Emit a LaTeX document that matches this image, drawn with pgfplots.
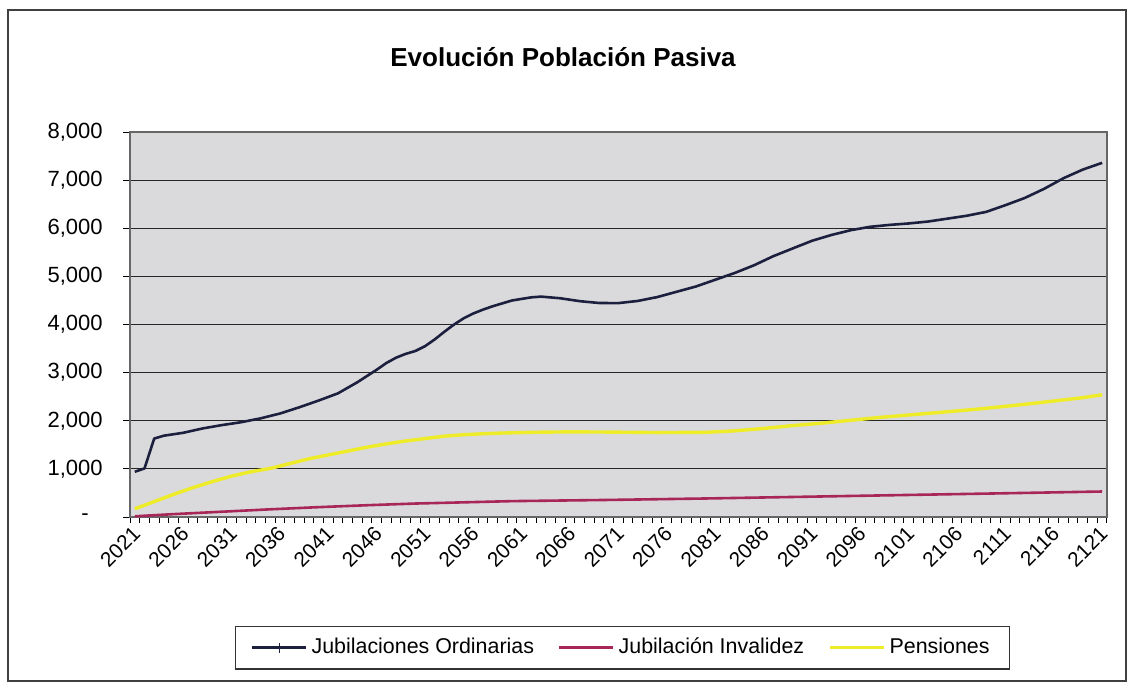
\documentclass[border=0pt]{standalone}
\usepackage{pgfplots}
\pgfplotsset{compat=1.18}
\usepackage{fontspec}
\setmainfont{Liberation Sans}
\definecolor{jubord}{RGB}{28,32,62}
\definecolor{jubinv}{RGB}{168,38,88}
\definecolor{pens}{RGB}{238,236,40}
\definecolor{plotbg}{RGB}{218,218,220}

\pgfplotstableread{
year value
2021 940
2022 1010
2023 1630
2024 1690
2026 1750
2028 1840
2030 1910
2032 1970
2034 2050
2036 2150
2038 2280
2040 2420
2042 2570
2044 2800
2046 3060
2047 3200
2048 3310
2049 3390
2050 3450
2051 3550
2052 3690
2053 3850
2054 4000
2055 4130
2056 4230
2057 4310
2058 4380
2060 4500
2062 4565
2063 4580
2065 4545
2067 4485
2069 4447
2071 4445
2073 4490
2075 4570
2077 4680
2079 4790
2081 4930
2083 5070
2085 5230
2087 5420
2089 5580
2091 5740
2093 5860
2095 5960
2097 6030
2099 6070
2101 6100
2103 6140
2105 6200
2107 6260
2109 6340
2111 6480
2113 6630
2115 6820
2117 7040
2119 7220
2121 7360
}\ordinarias

\pgfplotstableread{
year value
2021 15
2025 60
2030 110
2035 160
2040 205
2045 245
2050 280
2055 305
2060 330
2070 355
2080 385
2090 420
2100 455
2110 490
2121 530
}\invalidez

\pgfplotstableread{
year value
2021 170
2023 320
2025 470
2027 610
2029 735
2031 850
2033 940
2035 1010
2037 1110
2039 1210
2041 1290
2043 1370
2045 1450
2047 1520
2049 1580
2051 1630
2053 1680
2055 1710
2057 1730
2059 1745
2062 1760
2066 1770
2070 1765
2075 1755
2080 1760
2083 1790
2086 1840
2089 1900
2092 1950
2095 2010
2098 2070
2101 2120
2104 2170
2108 2240
2112 2320
2116 2410
2119 2480
2121 2540
}\pensiones

\begin{document}
\begin{tikzpicture}[x=1pt,y=1pt]
\useasboundingbox (0,0) rectangle (563.5,341);
\draw[black!75, line width=0.8pt] (4,0.6) rectangle (562.9,336);
\node[font=\fontsize{13}{15}\selectfont\bfseries] at (281.5,312.5) {Evolución Población Pasiva};
\begin{axis}[
  at={(65pt,82.5pt)}, anchor=south west,
  scale only axis, width=488.5pt, height=192.5pt,
  xmin=2020.5, xmax=2121.5, ymin=0, ymax=8000,
  axis background/.style={fill=plotbg},
  axis line style={black!60, line width=0.6pt},
  tick align=outside,
  xtick pos=lower, ytick pos=left,
  xtick={2021,2026,...,2121},
  xticklabels={2021,2026,2031,2036,2041,2046,2051,2056,2061,2066,2071,2076,2081,2086,2091,2096,2101,2106,2111,2116,2121},
  minor xtick={2020.5,2021.5,...,2121.5},
  major x tick style={draw=none},
  minor x tick style={black, line width=0.5pt},
  minor tick length=3pt,
  major tick length=3.5pt,
  ytick={0,1000,...,8000},
  yticklabels={{-\hspace*{7pt}},{1,000},{2,000},{3,000},{4,000},{5,000},{6,000},{7,000},{8,000}},
  y tick style={black, line width=0.5pt},
  ymajorgrids,
  major grid style={black!85, line width=0.6pt},
  xticklabel style={font=\fontsize{10.4}{11}\selectfont, rotate=45, anchor=north east, inner sep=1pt, yshift=2pt, xshift=-0.5pt},
  yticklabel style={font=\fontsize{11}{12}\selectfont, inner sep=1pt, xshift=-9pt},
  legend columns=3,
  legend style={at={(0.504,-0.339)}, anchor=center, draw=black!80, line width=0.6pt, fill=white,
    font=\fontsize{10.7}{12}\selectfont, inner xsep=8pt, inner ysep=4pt,
    /tikz/every even column/.append style={column sep=10pt}},
  legend cell align=left,
  legend image code/.code={\draw[#1] (0pt,0pt) -- (27pt,0pt);},
]
\addplot[jubord, line width=1.3pt, line join=round,
  legend image code/.code={\draw[jubord,line width=1.2pt] (0pt,0pt) -- (27pt,0pt); \draw[jubord,line width=0.6pt] (13.5pt,-2.5pt) -- (13.5pt,2.5pt);}]
  table[x=year,y=value] {\ordinarias};
\addlegendentry{Jubilaciones Ordinarias}
\addplot[jubinv, line width=1.3pt, line join=round] table[x=year,y=value] {\invalidez};
\addlegendentry{Jubilación Invalidez}
\addplot[pens, line width=1.7pt, line join=round] table[x=year,y=value] {\pensiones};
\addlegendentry{Pensiones}
\end{axis}
\end{tikzpicture}
\end{document}
